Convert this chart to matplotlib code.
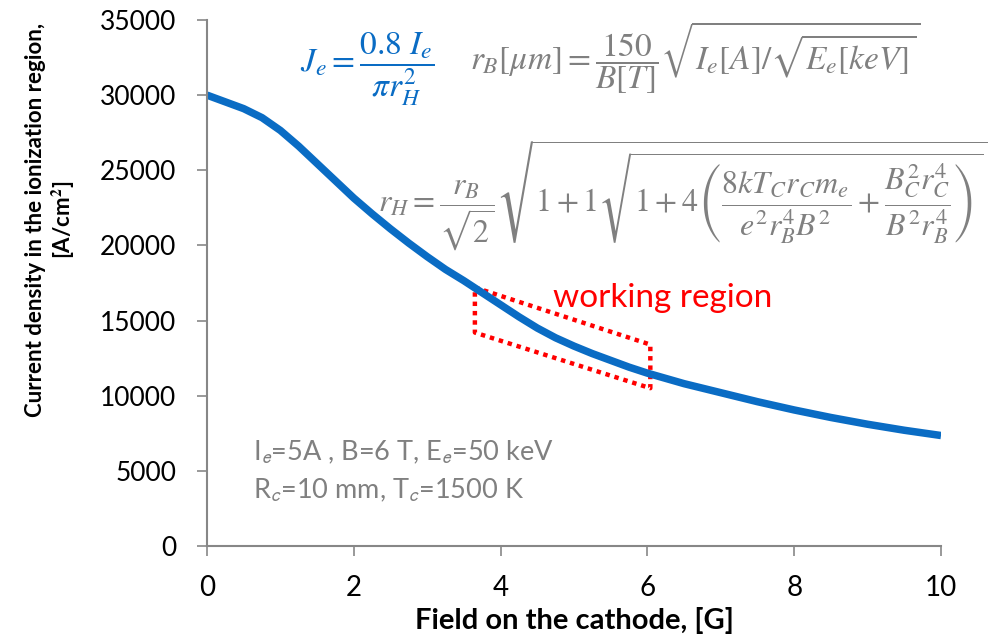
import matplotlib
matplotlib.use("Agg")
import matplotlib.pyplot as plt
from matplotlib.patches import Polygon

plt.rcParams["font.family"] = ["Lato", "DejaVu Sans"]
plt.rcParams["mathtext.fontset"] = "stix"

# curve
field = [0, 0.25, 0.5, 0.75, 1, 1.25, 1.5, 1.75, 2, 2.25, 2.5, 2.75, 3, 3.25, 3.5, 3.75,
         4, 4.25, 4.5, 4.75, 5, 5.25, 5.5, 5.75, 6, 6.5, 7, 7.5, 8, 8.5, 9, 9.5, 10]
jdens = [30000, 29550, 29100, 28500, 27650, 26600, 25450, 24300, 23150, 22100, 21100,
         20150, 19250, 18400, 17650, 16850, 16050, 15250, 14500, 13850, 13300, 12800,
         12350, 11900, 11500, 10800, 10200, 9600, 9050, 8550, 8100, 7700, 7350]

# working region outline (field, current density)
region_x = [3.65, 6.04, 6.04, 3.65]
region_y = [17200, 13400, 10500, 14200]

blue = "#0A6CC4"
grey = "#808080"
axgrey = "#878787"

fig = plt.figure(figsize=(9.94, 6.4), dpi=100)
ax = fig.add_axes([0.2082, 0.1469, 0.7385, 0.8219])

ax.plot(field, jdens, color=blue, lw=5.4, solid_capstyle="butt", solid_joinstyle="round")

ax.add_patch(Polygon(list(zip(region_x, region_y)), closed=True, fill=False,
                     edgecolor="red", lw=3.2, ls=(0, (1, 1.1)), joinstyle="round"))
ax.text(4.71, 16500, "working region", color="red", fontsize=24, va="center", ha="left")

ax.text(1.27, 31700, r"$J_e=\dfrac{0.8\ I_e}{\pi r_H^2}$", color=blue, fontsize=24,
        va="center", ha="left")
ax.text(3.58, 32500, r"$r_B[\mu m]=\dfrac{150}{B[T]}\sqrt{I_e[A]/\sqrt{E_e[keV]}}$",
        color=grey, fontsize=24, va="center", ha="left")
ax.text(2.33, 23300,
        r"$r_H=\dfrac{r_B}{\sqrt{2}}\sqrt{1+1\sqrt{1+4\left(\dfrac{8kT_C r_C m_e}{e^2 r_B^4 B^2}"
        r"+\dfrac{B_C^2 r_C^4}{B^2 r_B^4}\right)}}$",
        color=grey, fontsize=23, va="center", ha="left", clip_on=False)

ax.text(0.63, 6250, r"I$_\mathsf{e}$=5A , B=6 T, E$_\mathsf{e}$=50 keV", color=grey,
        fontsize=19.5, va="center", ha="left")
ax.text(0.63, 3700, r"R$_\mathsf{c}$=10 mm, T$_\mathsf{c}$=1500 K", color=grey,
        fontsize=19.5, va="center", ha="left")

ax.set_xlim(0, 10)
ax.set_ylim(0, 35000)
ax.set_xticks(range(0, 11, 2))
ax.set_yticks(range(0, 35001, 5000))
for s in ("top", "right"):
    ax.spines[s].set_visible(False)
for s in ("left", "bottom"):
    ax.spines[s].set_color(axgrey)
    ax.spines[s].set_linewidth(1.5)
ax.tick_params(direction="out", length=7, width=1.2, color=axgrey)
ax.tick_params(axis="x", labelsize=20, pad=14)
ax.tick_params(axis="y", labelsize=19, pad=15)

ax.set_xlabel("Field on the cathode, [G]", fontsize=21, fontweight="bold", labelpad=4)
ax.set_ylabel("Current density in the ionization region,\n[A/cm$^\\mathbf{2}$]",
              fontsize=16, fontweight="bold")
ax.yaxis.set_label_coords(-0.177, 0.62)

fig.savefig("out.png", dpi=100)
